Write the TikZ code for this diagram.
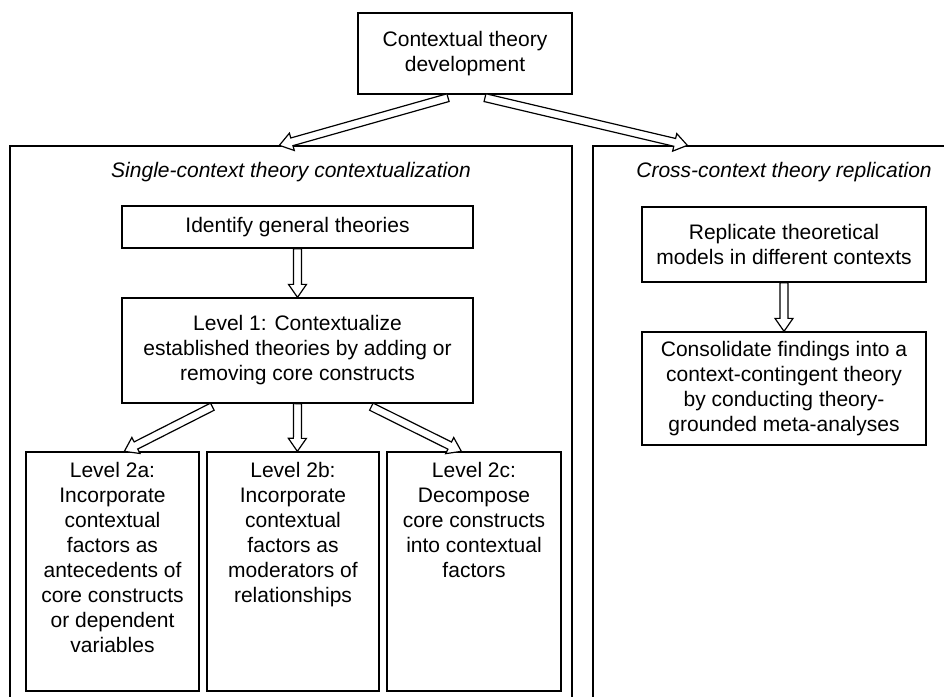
\documentclass[tikz,border=0pt]{standalone}
\usepackage{fontspec}
\setmainfont{Liberation Sans}
\usetikzlibrary{calc}
\newcommand{\hollowarrow}[2]{%
  \draw[harrow] let \p1=($(#2)-(#1)$), \n1={atan2(\y1,\x1)} in
    ($(#1)+(\n1+90:4pt)$) --
    ($(#2)+(\n1+180:13pt)+(\n1+90:4pt)$) --
    ($(#2)+(\n1+180:13pt)+(\n1+90:9pt)$) --
    (#2) --
    ($(#2)+(\n1+180:13pt)+(\n1-90:9pt)$) --
    ($(#2)+(\n1+180:13pt)+(\n1-90:4pt)$) --
    ($(#1)+(\n1-90:4pt)$) -- cycle;}
\begin{document}
\begin{tikzpicture}[x=1pt,y=-1pt,
  rbox/.style={draw, line width=1.3pt, inner sep=0pt, align=center,
    font=\fontsize{21}{25}\selectfont},
  frame/.style={draw, line width=1.3pt, inner sep=0pt},
  ttl/.style={font=\fontsize{21}{25}\selectfont\itshape, inner sep=0pt},
  harrow/.style={draw, fill=white, line width=1.2pt, line join=miter}]
\useasboundingbox (0,0) rectangle (944,696);

% outer frames
\node[frame, minimum width=562pt, minimum height=574pt] (leftbig) at (291,433) {};
\node[frame, minimum width=367pt, minimum height=574pt] (rightbig) at (776.5,433) {};
\node[ttl] (lttl) at (291,172) {Single-context theory contextualization};
\node[ttl] (rttl) at (784,172) {Cross-context theory replication};

% boxes
\node[rbox, minimum width=214pt, minimum height=81pt] (top) at (465,53.5)
  {Contextual theory\\development};
\node[rbox, minimum width=351pt, minimum height=42pt] (ident) at (297.5,227)
  {Identify general theories};
\node[rbox, minimum width=351pt, minimum height=105pt] (lvl1) at (297.5,350.5)
  {Level 1: Contextualize\\established theories by adding or\\removing core constructs};
\node[rbox] (l2a) at (112.5,571.5)
  {\parbox[c][239pt][t]{173pt}{\centering\rule{0pt}{25pt}Level 2a:\\Incorporate\\contextual\\factors as\\antecedents of\\core constructs\\or dependent\\variables}};
\node[rbox] (l2b) at (293,571.5)
  {\parbox[c][239pt][t]{172pt}{\centering\rule{0pt}{25pt}Level 2b:\\Incorporate\\contextual\\factors as\\moderators of\\relationships}};
\node[rbox] (l2c) at (474,571.5)
  {\parbox[c][239pt][t]{174pt}{\centering\rule{0pt}{25pt}Level 2c:\\Decompose\\core constructs\\into contextual\\factors}};
\node[rbox, minimum width=284pt, minimum height=75pt] (repl) at (784,244.5)
  {Replicate theoretical\\models in different contexts};
\node[rbox, minimum width=284pt, minimum height=113pt] (cons) at (784,388.5)
  {Consolidate findings into a\\context-contingent theory\\by conducting theory-\\grounded meta-analyses};

% arrow end points
\coordinate (tl1) at ($(top.south)+(-17,3)$);
\coordinate (tl2) at ($(leftbig.north west)+(270,0)$);
\coordinate (tr1) at ($(top.south)+(20,3)$);
\coordinate (tr2) at ($(rightbig.north west)+(95,0)$);
\coordinate (id1) at (ident.south);
\coordinate (id2) at (lvl1.north);
\coordinate (la1) at ($(lvl1.south west)+(91,3)$);
\coordinate (la2) at ($(l2a.north west)+(99,0)$);
\coordinate (lb1) at (lvl1.south);
\coordinate (lb2) at ($(l2b.north west)+(91,0)$);
\coordinate (lc1) at ($(lvl1.south west)+(250,3)$);
\coordinate (lc2) at ($(l2c.north west)+(75,0)$);
\coordinate (rp1) at (repl.south);
\coordinate (rp2) at (cons.north);

\hollowarrow{tl1}{tl2}
\hollowarrow{tr1}{tr2}
\hollowarrow{id1}{id2}
\hollowarrow{la1}{la2}
\hollowarrow{lb1}{lb2}
\hollowarrow{lc1}{lc2}
\hollowarrow{rp1}{rp2}
\end{tikzpicture}
\end{document}
